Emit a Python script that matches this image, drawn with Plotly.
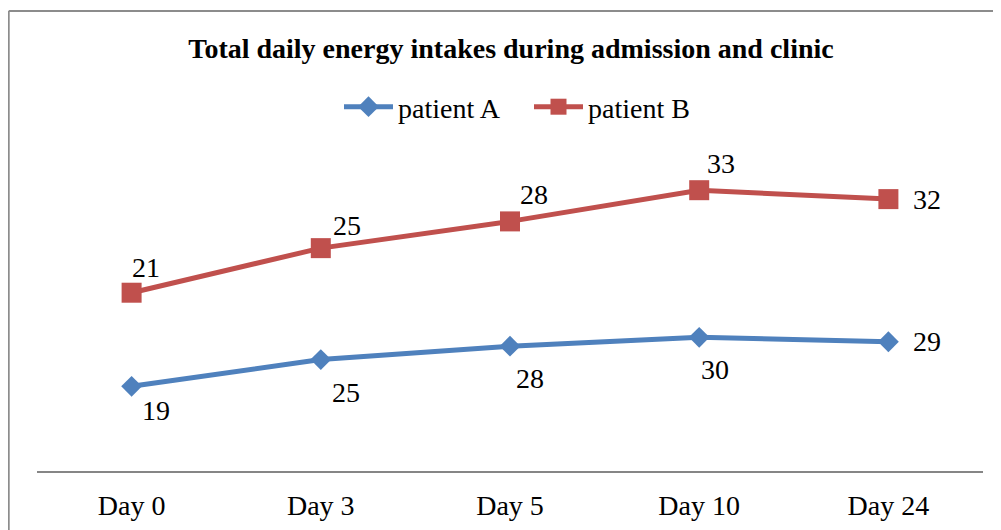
import plotly.graph_objects as go
import numpy as np

days = ["Day 0", "Day 3", "Day 5", "Day 10", "Day 24"]
patient_a = [19, 25, 28, 30, 29]
patient_b = [21, 25, 28, 33, 32]

BLUE = "#4F81BD"
RED = "#C0504D"
FONT = "Liberation Serif, Times New Roman, serif"

# figure is placed at an 8px body offset in the page
W, H = 993, 522
L, R, T, B = 29, 18, 151, 59
PW, PH = W - L - R, H - T - B

fig = go.Figure()
fig.add_trace(go.Scatter(
    x=days, y=patient_a, name="patient A", stackgroup="s", fill="none",
    mode="lines+markers",
    line=dict(color=BLUE, width=5),
    marker=dict(symbol="diamond", size=16, color=BLUE),
))
fig.add_trace(go.Scatter(
    x=days, y=patient_b, name="patient B", stackgroup="s", fill="none",
    mode="lines+markers",
    line=dict(color=RED, width=5),
    marker=dict(symbol="square", size=20, color=RED),
))

# data labels (at the stacked positions)
stack_a = np.array(patient_a)
stack_b = stack_a + np.array(patient_b)
shift_a = [(24, -24), (25, -33), (20, -32), (16, -32), (39, 0)]
shift_b = [(14, 25), (26, 23), (24, 27), (22, 27), (39, 0)]
for i, d in enumerate(days):
    fig.add_annotation(x=d, y=float(stack_a[i]), text=str(patient_a[i]), showarrow=False,
                       xshift=shift_a[i][0], yshift=shift_a[i][1],
                       font=dict(family=FONT, size=28, color="black"))
    fig.add_annotation(x=d, y=float(stack_b[i]), text=str(patient_b[i]), showarrow=False,
                       xshift=shift_b[i][0], yshift=shift_b[i][1],
                       font=dict(family=FONT, size=28, color="black"))

# outer chart border (top and left edges visible)
bx = (0.7 - L) / PW
by = (PH + T - 3) / PH
fig.add_shape(type="line", xref="paper", yref="paper",
              x0=bx, x1=(W + 10 - L) / PW, y0=by, y1=by,
              line=dict(color="#8C8C8C", width=2))
fig.add_shape(type="line", xref="paper", yref="paper",
              x0=bx, x1=bx, y0=by, y1=-(B + 10) / PH,
              line=dict(color="#8C8C8C", width=2))

fig.update_layout(
    width=W, height=H,
    margin=dict(l=L, r=R, t=T, b=B, autoexpand=False),
    paper_bgcolor="white", plot_bgcolor="white",
    font=dict(family=FONT, color="black"),
    title=dict(text="<b>Total daily energy intakes during admission and clinic</b>",
               x=503 / W, xanchor="center", y=1 - 40 / H, yanchor="middle",
               font=dict(family=FONT, size=28, color="black")),
    legend=dict(orientation="h", x=(331 - L) / PW, xanchor="left",
                y=(T + PH - 99) / PH, yanchor="middle",
                font=dict(family=FONT, size=28, color="black"),
                itemwidth=49, entrywidth=126, entrywidthmode="pixels",
                tracegroupgap=0),
    showlegend=True,
    xaxis=dict(type="category", range=[-0.5, len(days) - 0.5], automargin=False,
               showgrid=False, zeroline=False,
               showline=True, linecolor="#868686", linewidth=2,
               ticks="", tickfont=dict(family=FONT, size=28, color="black"),
               ticklabelstandoff=8),
    yaxis=dict(range=[0, 70], visible=False, showgrid=False, zeroline=False),
)

fig.write_html("out.html")
